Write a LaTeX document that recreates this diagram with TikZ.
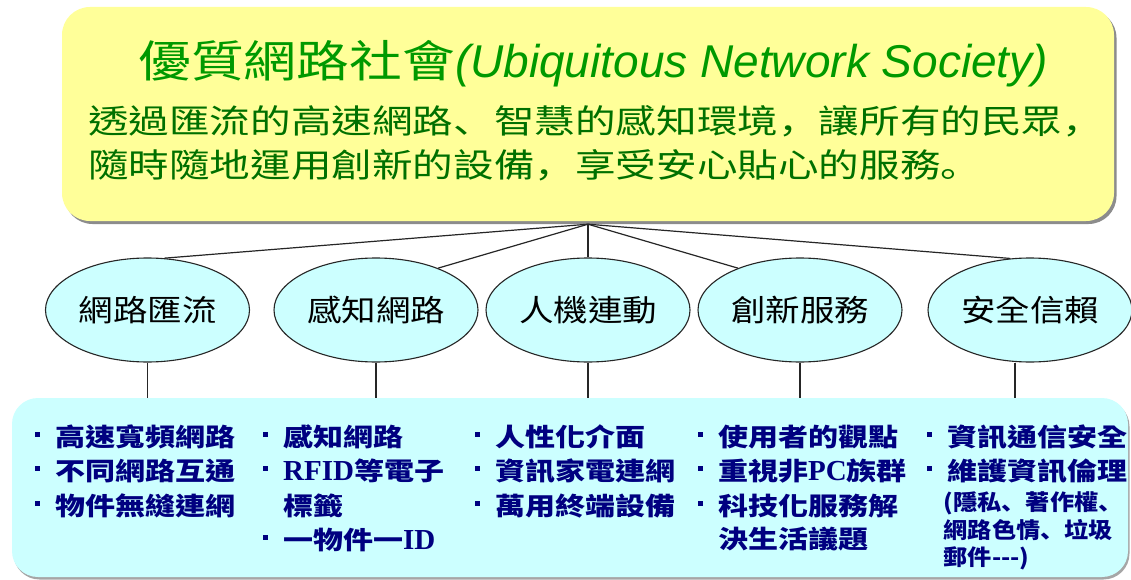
\documentclass[tikz,border=0pt]{standalone}
\usepackage{fontspec}
\usetikzlibrary{shapes.geometric,shadows}
\newfontfamily\cjkT[FakeStretch=1.2]{Noto Sans CJK TC}
\newfontfamily\cjkB[FakeStretch=1.23]{Noto Sans CJK TC}
\newfontfamily\cjkBp[FakeStretch=1.23]{Noto Sans CJK SC}
\newfontfamily\cjkE[FakeStretch=1.15]{Noto Sans CJK TC}
\newfontfamily\cjkL[FakeStretch=1.2]{Noto Sans CJK TC}
\newfontfamily\cjkS[FakeStretch=1.1]{Noto Sans CJK TC}
\newfontfamily\cjkSp[FakeStretch=1.1]{Noto Sans CJK SC}
\newfontfamily\latsans{Liberation Sans}
\newfontfamily\latser{Liberation Serif}
\definecolor{ybox}{HTML}{FFFF99}
\definecolor{cbox}{HTML}{CCFFFF}
\definecolor{titlegreen}{HTML}{009900}
\definecolor{bodygreen}{HTML}{007000}
\definecolor{navy}{HTML}{000080}
\newcommand\bul{\makebox[20pt][l]{\rule[10pt]{4.5pt}{4.5pt}}}
\newcommand\ser[1]{{\latser\bfseries\fontsize{29pt}{29pt}\selectfont #1}}
\newcommand\bodypunct[1]{{\cjkBp #1}}
\newcommand\smallpunct[1]{{\cjkSp\bfseries #1}}
\tikzset{
  topbox/.style={rectangle, rounded corners=28pt, fill=ybox, minimum width=1052pt, minimum height=214pt, inner sep=0pt,
    drop shadow={shadow xshift=2.5pt, shadow yshift=-3pt, fill=black, opacity=0.45}},
  listbox/.style={rectangle, rounded corners=26pt, fill=cbox, minimum width=1116pt, minimum height=179pt, inner sep=0pt,
    drop shadow={shadow xshift=1.5pt, shadow yshift=-2.5pt, fill=black, opacity=0.35}},
  topic/.style={ellipse, draw=black!85, line width=1.1pt, fill=cbox, minimum width=204pt, minimum height=104pt, inner sep=0pt,
    font=\fontsize{30pt}{30pt}\selectfont\cjkE},
  link/.style={draw=black!85, line width=1.2pt},
  li/.style={anchor=base west, inner sep=0pt, text=navy, font=\fontsize{25pt}{25pt}\selectfont\cjkL\bfseries},
  lis/.style={anchor=base west, inner sep=0pt, text=navy, font=\fontsize{22pt}{22pt}\selectfont\cjkS\bfseries},
  body/.style={anchor=base west, inner sep=0pt, text=bodygreen, font=\fontsize{33pt}{33pt}\selectfont\cjkB},
}
\begin{document}
\begin{tikzpicture}[x=1pt,y=-1pt]
\useasboundingbox (0,0) rectangle (1131,580);
\fill[white] (0,0) rectangle (1131,580);
% boxes
\node[topbox] (top) at (588,114) {};
\node[listbox] (cb) at (570,487.5) {};
% top texts
\node[anchor=base west, inner sep=0pt, text=titlegreen] (title) at (138,78)
  {{\fontsize{44pt}{44pt}\selectfont\cjkT 優質網路社會}{\latsans\itshape\fontsize{46pt}{46pt}\selectfont(Ubiquitous Network Society)}};
\node[body] (b1) at (88,133.5) {透過匯流的高速網路\bodypunct{、}智慧的感知環境\bodypunct{，}讓所有的民眾\bodypunct{，}};
\node[body] (b2) at (88,177.5) {隨時隨地運用創新的設備\bodypunct{，}享受安心貼心的服務\bodypunct{。}};
% topics
\node[topic] (e1) at (147.5,310) {網路匯流};
\node[topic] (e2) at (376,310) {感知網路};
\node[topic] (e3) at (588,310) {人機連動};
\node[topic] (e4) at (800,310) {創新服務};
\node[topic] (e5) at (1030,310) {安全信賴};
% connectors
\coordinate (hub) at ([yshift=-3pt]top.south);
\draw[link] (hub) -- (e1.72);
\draw[link] (hub) -- (e2.34);
\draw[link] (hub) -- (e3.north);
\draw[link] (hub) -- (e4.146);
\draw[link] (hub) -- (e5.111);
\draw[link] (e1.south) -- (e1.south |- cb.north);
\draw[link] (e2.south) -- (e2.south |- cb.north);
\draw[link] (e3.south) -- (e3.south |- cb.north);
\draw[link] (e4.south) -- (e4.south |- cb.north);
\coordinate (e5s) at ([xshift=-15pt]e5.south);
\draw[link] (e5s) -- (e5s |- cb.north);
% column 1
\node[li] (l11) at (35,446.5) {\bul 高速寬頻網路};
\node[li] (l12) at (35,480.5) {\bul 不同網路互通};
\node[li] (l13) at (35,515.5) {\bul 物件無縫連網};
% column 2
\node[li] (l21) at (263,446.5) {\bul 感知網路};
\node[li] (l22) at (263,480.5) {\bul \ser{RFID}等電子};
\node[li] (l23) at (283,515.5) {標籤};
\node[li] (l24) at (263,549.5) {\bul 一物件一\ser{ID}};
% column 3
\node[li] (l31) at (475,446.5) {\bul 人性化介面};
\node[li] (l32) at (475,480.5) {\bul 資訊家電連網};
\node[li] (l33) at (475,515.5) {\bul 萬用終端設備};
% column 4
\node[li] (l41) at (698,446.5) {\bul 使用者的觀點};
\node[li] (l42) at (698,480.5) {\bul 重視非\ser{PC}族群};
\node[li] (l43) at (698,515.5) {\bul 科技化服務解};
\node[li] (l44) at (718,548) {決生活議題};
% column 5
\node[li] (l51) at (927,446.5) {\bul 資訊通信安全};
\node[li] (l52) at (927,480.5) {\bul 維護資訊倫理};
\node[lis] (l53) at (943.5,510) {(隱私\smallpunct{、}著作權\smallpunct{、}};
\node[lis] (l54) at (943.5,538.5) {網路色情\smallpunct{、}垃圾};
\node[lis] (l55) at (943.5,565) {郵件---)};
\end{tikzpicture}
\end{document}
